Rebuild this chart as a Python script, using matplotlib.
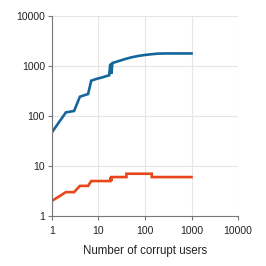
import matplotlib.pyplot as plt
from matplotlib.ticker import FixedLocator, FixedFormatter, NullLocator

# datos
users_blue = [1, 2, 3, 4, 6, 7, 9, 12, 15, 17, 18, 18, 19, 19, 20, 25, 30, 40, 50, 70, 100, 150, 200, 300, 500, 700, 1000]
vals_blue = [47, 118, 126, 243, 275, 508, 550, 590, 630, 650, 1100, 690, 1130, 700, 1150, 1220, 1290, 1400, 1480, 1580, 1660, 1730, 1770, 1780, 1780, 1780, 1780]

users_orange = [1, 2, 3, 4, 6, 7, 18, 18, 19, 19, 40, 40, 140, 140, 1000]
vals_orange = [2, 3, 3, 4, 4, 5, 5, 6, 5, 6, 6, 7, 7, 6, 6]

ticks = [1, 10, 100, 1000, 10000]
tick_labels = ["1", "10", "100", "1000", "10000"]

plt.rcParams['font.family'] = ['Liberation Sans', 'DejaVu Sans']

fig = plt.figure(figsize=(2.66, 2.66), dpi=100, facecolor='white')
ax = fig.add_axes([0.195, 0.188, 0.7, 0.752])

ax.plot(users_blue, vals_blue, color='#14679a', lw=1.9, solid_joinstyle='miter')
ax.plot(users_orange, vals_orange, color='#e8461b', lw=1.9, solid_joinstyle='miter')

ax.set_xscale('log')
ax.set_yscale('log')
ax.set_xlim(1, 10000)
ax.set_ylim(1, 10000)

ax.xaxis.set_major_locator(FixedLocator(ticks))
ax.xaxis.set_major_formatter(FixedFormatter(tick_labels))
ax.yaxis.set_major_locator(FixedLocator(ticks))
ax.yaxis.set_major_formatter(FixedFormatter(tick_labels))
ax.xaxis.set_minor_locator(NullLocator())
ax.yaxis.set_minor_locator(NullLocator())

ax.grid(True, color='#e6e6e6', lw=0.8)
ax.set_axisbelow(True)

for s in ['top', 'right']:
    ax.spines[s].set_visible(False)
for s in ['left', 'bottom']:
    ax.spines[s].set_color('#777777')
    ax.spines[s].set_linewidth(0.8)

ax.tick_params(length=3, width=0.8, color='#777777', labelsize=7.5, labelcolor='#222222', pad=2)
ax.tick_params(axis='x', pad=4)
ax.set_xlabel("Number of corrupt users", fontsize=8.3, color='#222222', labelpad=7)

plt.savefig("out.png", dpi=100)
